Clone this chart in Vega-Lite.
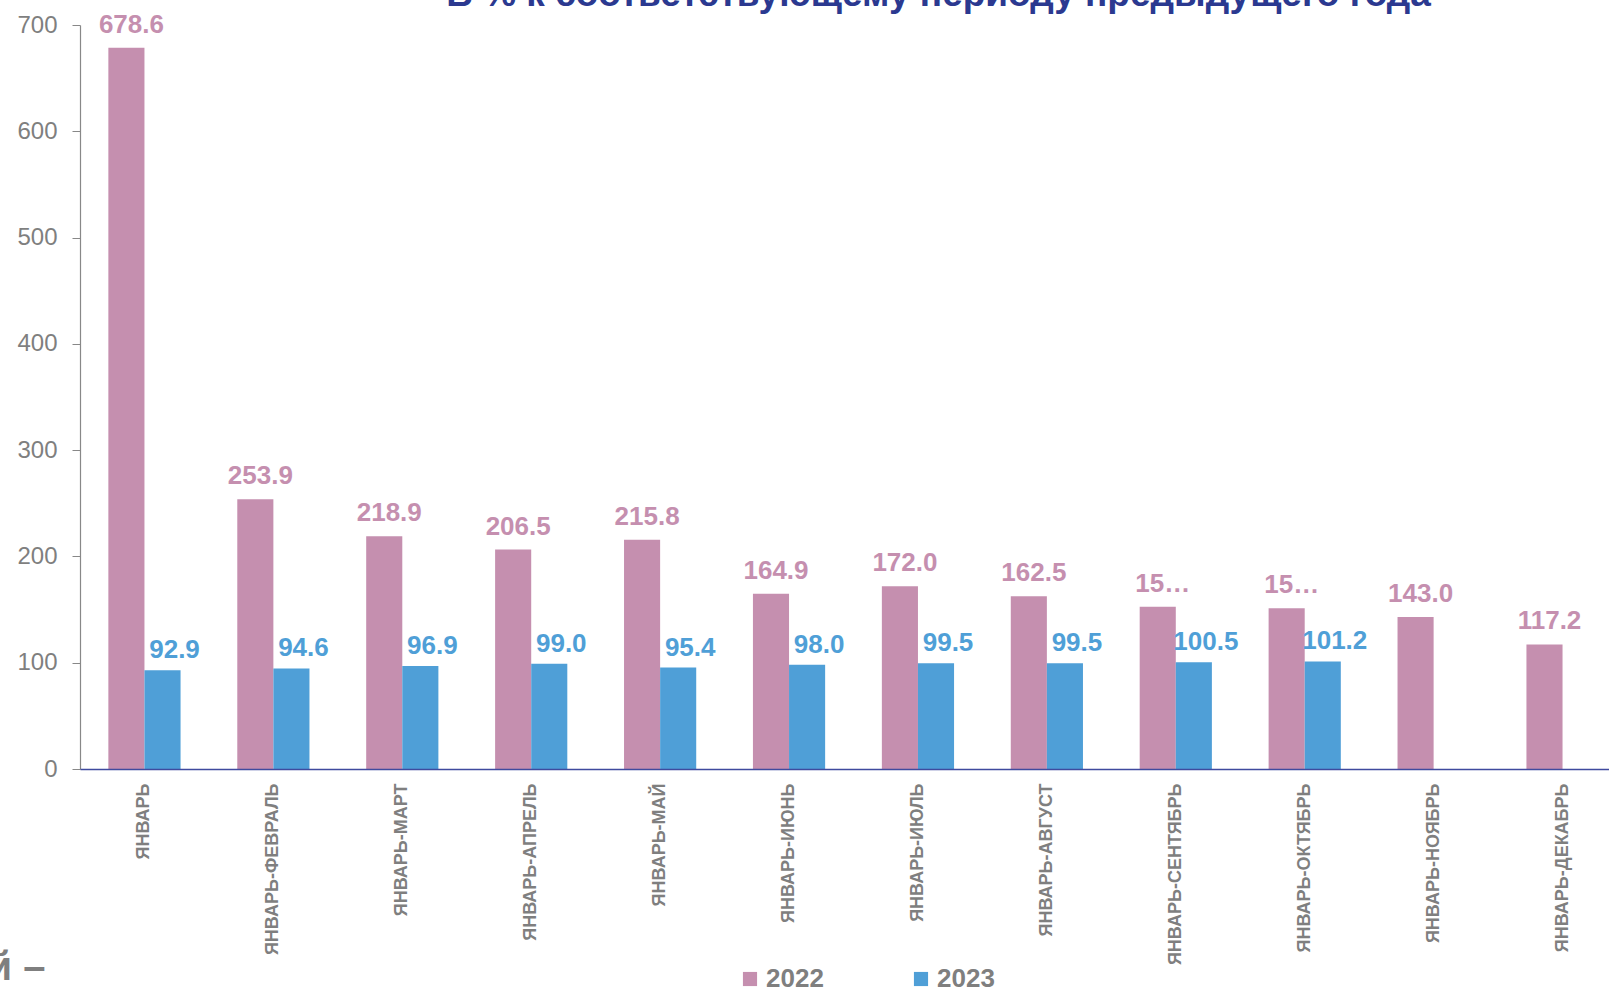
{
  "$schema": "https://vega.github.io/schema/vega-lite/v6.json",
  "autosize": {"type": "none"},
  "width": 1547,
  "height": 744,
  "padding": {"left": 80, "top": 25, "right": -18, "bottom": 221},
  "background": "white",
  "config": {
    "font": "Liberation Sans",
    "view": {"stroke": null}
  },
  "title": {
    "text": "В % к соответствующему периоду предыдущего года",
    "font": "Liberation Sans",
    "fontSize": 37,
    "fontWeight": "bold",
    "color": "#2B3990",
    "anchor": "middle",
    "baseline": "alphabetic",
    "offset": 0,
    "dx": 85,
    "dy": 31
  },
  "data": {
    "values": [
      {"period": "ЯНВАРЬ", "year": "2022", "value": 678.6, "label": "678.6"},
      {"period": "ЯНВАРЬ", "year": "2023", "value": 92.9, "label": "92.9"},
      {"period": "ЯНВАРЬ-ФЕВРАЛЬ", "year": "2022", "value": 253.9, "label": "253.9"},
      {"period": "ЯНВАРЬ-ФЕВРАЛЬ", "year": "2023", "value": 94.6, "label": "94.6"},
      {"period": "ЯНВАРЬ-МАРТ", "year": "2022", "value": 218.9, "label": "218.9"},
      {"period": "ЯНВАРЬ-МАРТ", "year": "2023", "value": 96.9, "label": "96.9"},
      {"period": "ЯНВАРЬ-АПРЕЛЬ", "year": "2022", "value": 206.5, "label": "206.5"},
      {"period": "ЯНВАРЬ-АПРЕЛЬ", "year": "2023", "value": 99.0, "label": "99.0"},
      {"period": "ЯНВАРЬ-МАЙ", "year": "2022", "value": 215.8, "label": "215.8"},
      {"period": "ЯНВАРЬ-МАЙ", "year": "2023", "value": 95.4, "label": "95.4"},
      {"period": "ЯНВАРЬ-ИЮНЬ", "year": "2022", "value": 164.9, "label": "164.9"},
      {"period": "ЯНВАРЬ-ИЮНЬ", "year": "2023", "value": 98.0, "label": "98.0"},
      {"period": "ЯНВАРЬ-ИЮЛЬ", "year": "2022", "value": 172.0, "label": "172.0"},
      {"period": "ЯНВАРЬ-ИЮЛЬ", "year": "2023", "value": 99.5, "label": "99.5"},
      {"period": "ЯНВАРЬ-АВГУСТ", "year": "2022", "value": 162.5, "label": "162.5"},
      {"period": "ЯНВАРЬ-АВГУСТ", "year": "2023", "value": 99.5, "label": "99.5"},
      {"period": "ЯНВАРЬ-СЕНТЯБРЬ", "year": "2022", "value": 152.7, "label": "15…"},
      {"period": "ЯНВАРЬ-СЕНТЯБРЬ", "year": "2023", "value": 100.5, "label": "100.5"},
      {"period": "ЯНВАРЬ-ОКТЯБРЬ", "year": "2022", "value": 151.2, "label": "15…"},
      {"period": "ЯНВАРЬ-ОКТЯБРЬ", "year": "2023", "value": 101.2, "label": "101.2"},
      {"period": "ЯНВАРЬ-НОЯБРЬ", "year": "2022", "value": 143.0, "label": "143.0"},
      {"period": "ЯНВАРЬ-ДЕКАБРЬ", "year": "2022", "value": 117.2, "label": "117.2"}
    ]
  },
  "encoding": {
    "x": {
      "field": "period",
      "type": "nominal",
      "sort": null,
      "scale": {"paddingInner": 0.44, "paddingOuter": 0.22},
      "axis": {
        "title": null,
        "labelAngle": -90,
        "labelFont": "Liberation Sans",
        "labelFontSize": 18,
        "labelFontWeight": "bold",
        "labelColor": "#7F7F7F",
        "labelPadding": 14,
        "labelLimit": 400,
        "ticks": false,
        "domainColor": "#3F4A9E",
        "domainWidth": 1.5,
        "zindex": 1
      }
    },
    "xOffset": {"field": "year", "type": "nominal", "scale": {"paddingInner": 0, "paddingOuter": 0}},
    "y": {
      "field": "value",
      "type": "quantitative",
      "scale": {"domain": [0, 700], "nice": false},
      "axis": {
        "title": "й –",
        "titleAngle": 0,
        "titleAlign": "right",
        "titleBaseline": "alphabetic",
        "titleX": -35,
        "titleY": 954,
        "titleFont": "Liberation Sans",
        "titleFontSize": 40,
        "titleFontWeight": "bold",
        "titleColor": "#7F7F7F",
        "values": [0, 100, 200, 300, 400, 500, 600, 700],
        "grid": false,
        "labelFont": "Liberation Sans",
        "labelFontSize": 24,
        "labelColor": "#7F7F7F",
        "labelPadding": 15,
        "tickSize": 8,
        "tickColor": "#888888",
        "domainColor": "#888888",
        "domainWidth": 1.2
      }
    }
  },
  "layer": [
    {
      "mark": {"type": "bar"},
      "encoding": {
        "color": {
          "field": "year",
          "type": "nominal",
          "scale": {"domain": ["2022", "2023"], "range": ["#C58FAF", "#4F9FD7"]},
          "legend": {
            "title": null,
            "orient": "none",
            "direction": "horizontal",
            "legendX": 657,
            "legendY": 941,
            "padding": 0,
            "symbolType": "square",
            "symbolSize": 200,
            "symbolStrokeWidth": 0,
            "labelFont": "Liberation Sans",
            "labelFontSize": 26,
            "labelFontWeight": "bold",
            "labelColor": "#7F7F7F",
            "labelOffset": 3,
            "columnPadding": 84
          }
        }
      }
    },
    {
      "transform": [{"filter": "datum.year === '2022'"}],
      "mark": {"type": "text", "font": "Liberation Sans", "fontSize": 26, "fontWeight": "bold", "color": "#C58FAF", "baseline": "alphabetic", "dy": -15, "dx": 5},
      "encoding": {"text": {"field": "label"}}
    },
    {
      "transform": [{"filter": "datum.year === '2023'"}],
      "mark": {"type": "text", "font": "Liberation Sans", "fontSize": 26, "fontWeight": "bold", "color": "#4F9FD7", "baseline": "alphabetic", "dy": -12, "dx": 12},
      "encoding": {"text": {"field": "label"}}
    }
  ]
}
